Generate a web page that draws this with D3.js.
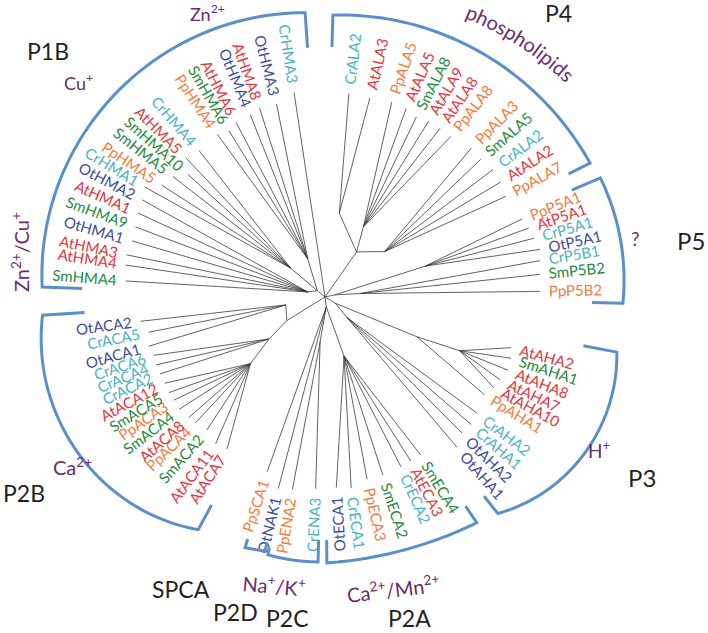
<!DOCTYPE html>
<html><head><meta charset="utf-8">
<script src="https://cdn.jsdelivr.net/npm/d3@7"></script>
<style>body{margin:0;background:#fff}svg{display:block}</style>
</head><body>
<svg id="chart" width="708" height="633"></svg>
<script>
// ---------- DATA ----------
// tips in clockwise order (angle in degrees from north, clockwise), tip distance from root in tree units
const leafNames = [
 "CrALA2","AtALA3","PpALA5","AtALA5","SmALA8","AtALA9","AtALA8","PpALA8","PpALA3","SmALA5","CrALA2","AtALA2","PpALA7",
 "PpP5A1","AtP5A1","CrP5A1","OtP5A1","CrP5B1","SmP5B2","PpP5B2",
 "AtAHA2","SmAHA1","AtAHA8","AtAHA7","AtAHA10","PpAHA1","CrAHA2","CrAHA1","OtAHA2","OtAHA1",
 "SmECA4","AtECA3","CrECA2","SmECA2","PpECA3","CrECA1","OtECA1",
 "CrENA3","PpENA2","OtNAK1","PpSCA1",
 "AtACA7","AtACA11","SmACA2","PpACA4","AtACA8","SmACA4","PpACA3","SmACA5","AtACA12","CrACA2","CrACA4","CrACA6","OtACA1","CrACA5","OtACA2",
 "SmHMA4","AtHMA4","AtHMA3","OtHMA1","SmHMA9","AtHMA1","OtHMA2","CrHMA1","PpHMA5","SmHMA5","SmHMA10","AtHMA5","CrHMA4","PpHMA4","SmHMA6","AtHMA6","OtHMA4","AtHMA8","OtHMA3","CrHMA3"
];
const leafParent = [
 "P4a","P4a","P4b","P4b","P4b","P4b","P4b","P4b","P4c","P4c","P4c","P4c","P4c",
 "P5A","P5A","P5A","P5A","P5B","P5B","P5B",
 "P3at","P3at","P3at","P3at","P3at","P3pl","P3alg","P3alg","P3alg","P3alg",
 "P2A","P2A","P2A","P2A","P2A","P2A","P2A",
 "P2C","P2C","P2","P2",
 "P2Bc","P2Bc","P2Bc","P2Bc","P2Bc","P2Bc","P2Bc","P2Bc","P2Bc","P2Bb","P2Bb","P2Bb","P2Ba","P2Ba","P2Ba",
 "P1Bzc","P1Bzc","P1Bzc","P1Bzc","P1Bzc","P1Bzc","P1Bzc","P1Bcu","P1Bcu","P1Bcu","P1Bcu","P1Bcu","P1Bcu","P1Bzn","P1Bzn","P1Bzn","P1Bzn","P1Bzn","P1Bzn","root"
];
const leafAngle = [
 6.7,12.7,18.9,23.3,26.9,30.5,34.3,38.1,44.5,48.5,52.8,56.8,60.9,
 68.4,71.3,74.3,77.5,80.4,84,88.5,
 105.2,108.2,111.8,115.3,118.3,121.5,127.4,131.1,134.8,138.7,
 148.8,152.4,155.9,162,167,172.2,176.6,
 182.8,189.6,193.7,198.3,
 212.8,216.7,221.6,225.8,228.5,232.4,235.7,238.5,241.7,245,248.1,251.2,254.4,258.7,262.5,
 274.6,279.1,282,286.2,290.3,294.2,298,301.4,304.4,308.4,311.8,315,319.3,326.5,330,333,337.7,340.9,345.9,351.4
];
const leafLength = [
 2.05,2.04,2.06,2.05,2.02,2.04,2.04,2.04,2.09,2.08,2.11,2.10,2.07,
 2.12,2.15,2.17,2.20,2.18,2.16,2.15,
 1.93,1.96,1.97,1.94,1.92,1.87,1.92,1.94,1.93,2.00,
 1.85,1.85,1.86,1.87,1.87,1.93,1.91,
 1.92,1.95,1.97,1.84,
 1.81,1.83,1.78,1.81,1.82,1.84,1.83,1.83,1.82,1.82,1.82,1.81,1.83,1.80,1.86,
 2.00,2.02,2.03,2.01,2.02,2.05,2.07,2.11,1.98,1.94,1.84,1.97,1.93,1.95,1.92,1.96,1.97,2.00,1.99,2.07
];
// internal nodes
const nodeIds     = ["root","P1B","P1Bzc","P1Bcu","P1Bzn","P4","P4a","P4b","P4c","P5","P5A","P5B","P3","P3pl","P3at","P3alg","P2","P2A","P2C","P2B","P2Ba","P2Bb","P2Bc"];
const nodeParents = ["","root","P1B","P1B","P1B","root","P4","P4","P4","root","P5","P5","root","P3","P3pl","P3","root","P2","P2","root","P2B","P2B","P2Bb"];
const nodeLength  = [0,0.10,0.18,0.45,0.42,0.55,0.85,0.80,0.75,0.10,1.05,0.35,0.12,1.00,1.45,0.30,0.10,0.62,0.45,0.45,0.40,0.70,1.00];

const speciesCodes  = ["At","Sm","Pp","Cr","Ot"];
const speciesColors = ["#e4353c","#258a3c","#f37b3b","#4ab2c6","#3c4b9c"];

// clade brackets (angular extent, degrees)
const cladeNames = ["P1B","P4","P5","P3","P2A","P2C","P2D","P2B"];
const cladeStart = [272,1.6,66.6,100.7,146.1,181.5,193.3,208.6];
const cladeEnd   = [356,63.2,91.2,141.4,179.6,192.5,197.7,266.3];

// ---------- LAYOUT ----------
const W = 708, H = 633, cx = 325, cy = 297;
const bracketLayout = {
  P1B:{r:[283,292,285],t:[40,35]}, P4:{r:[282,290,297],t:[32,24]}, P5:{r:[300,301,298],t:[31,31]},
  P3:{r:[297,303,277],t:[34,22]}, P2A:{r:[272,265,266],t:[20,23]}, P2C:{r:[265,265,264],t:[22,7]},
  P2D:{r:[261,262,263],t:[9,9]}, P2B:{r:[265,292,283],t:[28,42]}
};
const purple = "#6a2c6e", ink = "#231f20", bracketBlue = "#5b8fc9";
const FONT = "Lato, 'Open Sans', sans-serif";

const svg = d3.select("#chart");
const rScale = d3.scaleLinear().domain([0, 1]).range([0, 100]);
const rad = d3.scaleLinear().domain([0, 360]).range([0, 2 * Math.PI]);
const colorOf = d3.scaleOrdinal().domain(speciesCodes).range(speciesColors);
const polar = (a, r) => [cx + r * Math.sin(rad(a)), cy - r * Math.cos(rad(a))];

// ---------- TREE ----------
const rows = nodeIds.map((id, i) => ({id, parentId: nodeParents[i] || null, len: nodeLength[i]}));
leafNames.forEach((n, i) => rows.push({id: "leaf" + i, parentId: leafParent[i], len: leafLength[i], name: n, angle: leafAngle[i]}));
const root = d3.stratify().id(d => d.id).parentId(d => d.parentId)(rows);
root.each(d => {
  d.a = d.data.name !== undefined ? d.data.angle : d3.mean(d.leaves(), l => l.data.angle);
  d.r = rScale(d.data.len);
});

const gTree = svg.append("g");
gTree.selectAll("line").data(root.descendants().filter(d => d.parent))
  .join("line")
  .attr("x1", d => polar(d.parent.a, d.parent.r)[0])
  .attr("y1", d => polar(d.parent.a, d.parent.r)[1])
  .attr("x2", d => polar(d.a, d.r)[0])
  .attr("y2", d => polar(d.a, d.r)[1])
  .attr("stroke", "#3a3a3a").attr("stroke-width", 0.8);

// tip labels
const flip = a => a > 175;
svg.append("g").selectAll("text").data(root.leaves()).join("text")
  .attr("transform", d => `translate(${cx},${cy}) rotate(${d.a - 90}) translate(${d.r + 9},0)` + (flip(d.a) ? " rotate(180)" : ""))
  .attr("text-anchor", d => flip(d.a) ? "end" : "start")
  .attr("dy", "0.36em")
  .attr("font-family", FONT).attr("font-size", 15)
  .attr("fill", d => colorOf(d.data.name.slice(0, 2)))
  .text(d => d.data.name);

// ---------- BRACKETS ----------
const lineR = d3.lineRadial().angle(p => rad(p[0])).radius(p => p[1]);
const gB = svg.append("g").attr("transform", `translate(${cx},${cy})`);
cladeNames.forEach((name, i) => {
  const a0 = cladeStart[i], a1 = cladeEnd[i], L = bracketLayout[name];
  const [r0, rm, r1] = L.r;
  const rAt = t => r0 * (1 - t) * (1 - 2 * t) + rm * 4 * t * (1 - t) + r1 * t * (2 * t - 1);
  const pts = [[a0, r0 - L.t[0]]];
  const n = 60;
  for (let k = 0; k <= n; k++) { const t = k / n; pts.push([a0 + (a1 - a0) * t, rAt(t)]); }
  pts.push([a1, r1 - L.t[1]]);
  gB.append("path").attr("d", lineR(pts)).attr("fill", "none")
    .attr("stroke", bracketBlue).attr("stroke-width", 3).attr("stroke-linejoin", "miter");
});

// ---------- ANNOTATIONS ----------
function rich(sel, parts, size) {
  let raised = false;
  parts.forEach(p => {
    const sup = p[1] === "sup";
    const t = sel.append("tspan").text(p[0]);
    if (sup) { t.attr("font-size", size * 0.68); if (!raised) t.attr("dy", -size * 0.42); raised = true; }
    else { if (raised) t.attr("dy", size * 0.42); raised = false; }
  });
}
const notes = [
  {p:[["P1B"]], x:27, y:60, s:23, c:ink},
  {p:[["P4"]], x:545, y:22, s:23, c:ink},
  {p:[["P5"]], x:677, y:250, s:24, c:ink},
  {p:[["P3"]], x:628, y:487, s:24, c:ink},
  {p:[["P2A"]], x:388, y:627, s:23, c:ink},
  {p:[["P2C"]], x:266, y:627, s:23, c:ink},
  {p:[["P2D"]], x:213, y:621, s:23, c:ink},
  {p:[["SPCA"]], x:152, y:598, s:23, c:ink},
  {p:[["P2B"]], x:3, y:502, s:23, c:ink},
  {p:[["Cu"],["+","sup"]], x:64, y:90, s:18, c:purple},
  {p:[["Zn"],["2+","sup"]], x:190, y:21, s:18, c:purple},
  {p:[["?"]], x:631, y:246, s:19, c:purple},
  {p:[["H"],["+","sup"]], x:588, y:458, s:19, c:purple},
  {p:[["Ca"],["2+","sup"]], x:53, y:475, s:20, c:purple},
  {p:[["Na"],["+","sup"],["/K"],["+","sup"]], x:242, y:591, s:20, c:purple, rot:5},
  {p:[["Ca"],["2+","sup"],["/Mn"],["2+","sup"]], x:348, y:603, s:20, c:purple, rot:-7},
  {p:[["Zn"],["2+","sup"],["/Cu"],["+","sup"]], x:29, y:292, s:20, c:purple, rot:-90}
];
notes.forEach(n => {
  const t = svg.append("text")
    .attr("transform", `translate(${n.x},${n.y}) rotate(${n.rot || 0})`)
    .attr("font-family", FONT).attr("font-size", n.s).attr("fill", n.c);
  rich(t, n.p, n.s);
});

// "phospholipids" along the P4 arc
const arcPts = d3.range(0, 41).map(k => [26.5 + k, 312 + k * 0.45]);
svg.append("defs").append("path").attr("id", "phosArc")
  .attr("transform", `translate(${cx},${cy})`).attr("d", lineR(arcPts));
svg.append("text").attr("font-family", FONT).attr("font-size", 20).attr("fill", purple)
  .append("textPath").attr("href", "#phosArc").text("phospholipids");
</script>
</body></html>
